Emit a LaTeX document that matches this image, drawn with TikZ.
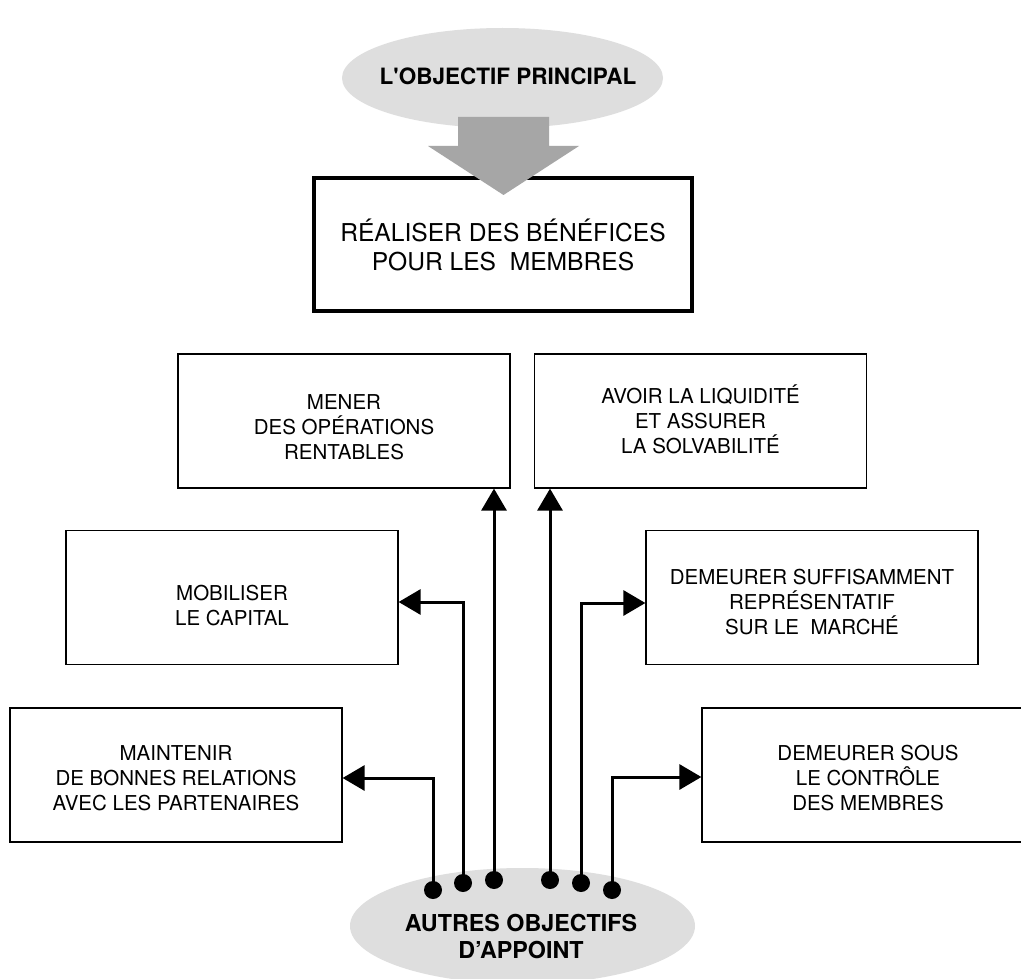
\documentclass[tikz,border=0pt]{standalone}
\usepackage{fontspec}
\setmainfont{TeX Gyre Heros}[Ligatures=TeXOff]
\usetikzlibrary{shapes.geometric,arrows.meta}
\definecolor{ellgray}{HTML}{DEDEDE}
\definecolor{arrgray}{HTML}{A6A6A6}
\begin{document}
\begin{tikzpicture}[x=1pt,y=-1pt,
  ell/.style={ellipse, fill=ellgray, draw=none, inner sep=0pt},
  boldtxt/.style={align=center, inner sep=0pt, font=\bfseries\fontsize{22.5}{27}\selectfont},
  bottxtstyle/.style={align=center, inner sep=0pt, font=\bfseries\fontsize{23.3}{27}\selectfont},
  box/.style={draw, line width=1.2pt, rectangle, minimum width=332pt, minimum height=134pt, inner sep=0pt},
  boxtxt/.style={align=center, inner sep=0pt, font=\fontsize{20.5}{25}\selectfont},
  mainbox/.style={draw, line width=4pt, rectangle, minimum width=378pt, minimum height=133pt,
    align=center, inner sep=0pt, font=\fontsize{24.6}{29}\selectfont},
  conn/.style={line width=3pt, -{Triangle[length=22pt,width=25pt]}},
  dotstyle/.style={circle, fill=black, draw=none, minimum size=18pt, inner sep=0pt}]
\useasboundingbox (0,0) rectangle (1021,979);
\clip (0,0) rectangle (1021,979);
\fill[white] (0,0) rectangle (1021,979);
% top ellipse
\node[ell, minimum width=321pt, minimum height=100pt] (topell) at (502.5,78) {};
\node[boldtxt] (toptxt) at (508,76) {L'OBJECTIF PRINCIPAL};
% main box
\node[mainbox] (main) at (503,244.5) {RÉALISER DES BÉNÉFICES\\POUR LES\ \ MEMBRES};
% block arrow
\fill[arrgray] (458,117) -- (549,117) -- (549,146) -- (579,146) -- (503.5,195)
  -- (428,146) -- (458,146) -- cycle;
% objective boxes
\node[box, label={[boxtxt, yshift=-6.5pt]center:{MENER\\DES OPÉRATIONS\\RENTABLES}}] (mener) at (344,421) {};
\node[box, label={[boxtxt, yshift=2pt]center:{AVOIR LA LIQUIDITÉ\\ET ASSURER\\LA SOLVABILITÉ}}] (avoir) at (700.5,421) {};
\node[box, label={[boxtxt, yshift=-8pt]center:{MOBILISER\\LE CAPITAL}}] (mobil) at (232,597.5) {};
\node[box, label={[boxtxt, yshift=-5pt]center:{DEMEURER SUFFISAMMENT\\REPRÉSENTATIF\\SUR LE\ \ MARCHÉ}}] (demsuf) at (812,597.5) {};
\node[box, label={[boxtxt, yshift=-3pt]center:{MAINTENIR\\DE BONNES RELATIONS\\AVEC LES PARTENAIRES}}] (maint) at (176,775) {};
\node[box, label={[boxtxt, yshift=-3pt]center:{DEMEURER SOUS\\LE CONTRÔLE\\DES MEMBRES}}] (demsous) at (868,775) {};
% bottom ellipse
\node[ell, minimum width=345pt, minimum height=116pt] (botell) at (522.5,926) {};
\node[bottxtstyle] (bottxt) at (521,937) {AUTRES OBJECTIFS\\D’APPOINT};
% dots
\node[dotstyle] (d1) at (433,890) {};
\node[dotstyle] (d2) at (463,883) {};
\node[dotstyle] (d3) at (494,880) {};
\node[dotstyle] (d4) at (550,880) {};
\node[dotstyle] (d5) at (581,883) {};
\node[dotstyle] (d6) at (612,890) {};
% connectors
\draw[conn] (d1.center) |- ([yshift=-3pt]maint.east);
\draw[conn] (d2.center) |- ([yshift=-4.5pt]mobil.east);
\draw[conn] (d3.center) -- (d3.center |- mener.south);
\draw[conn] (d4.center) -- (d4.center |- avoir.south);
\draw[conn] (d5.center) |- ([yshift=-5.5pt]demsuf.west);
\draw[conn] (d6.center) |- ([yshift=-2pt]demsous.west);
\end{tikzpicture}
\end{document}
